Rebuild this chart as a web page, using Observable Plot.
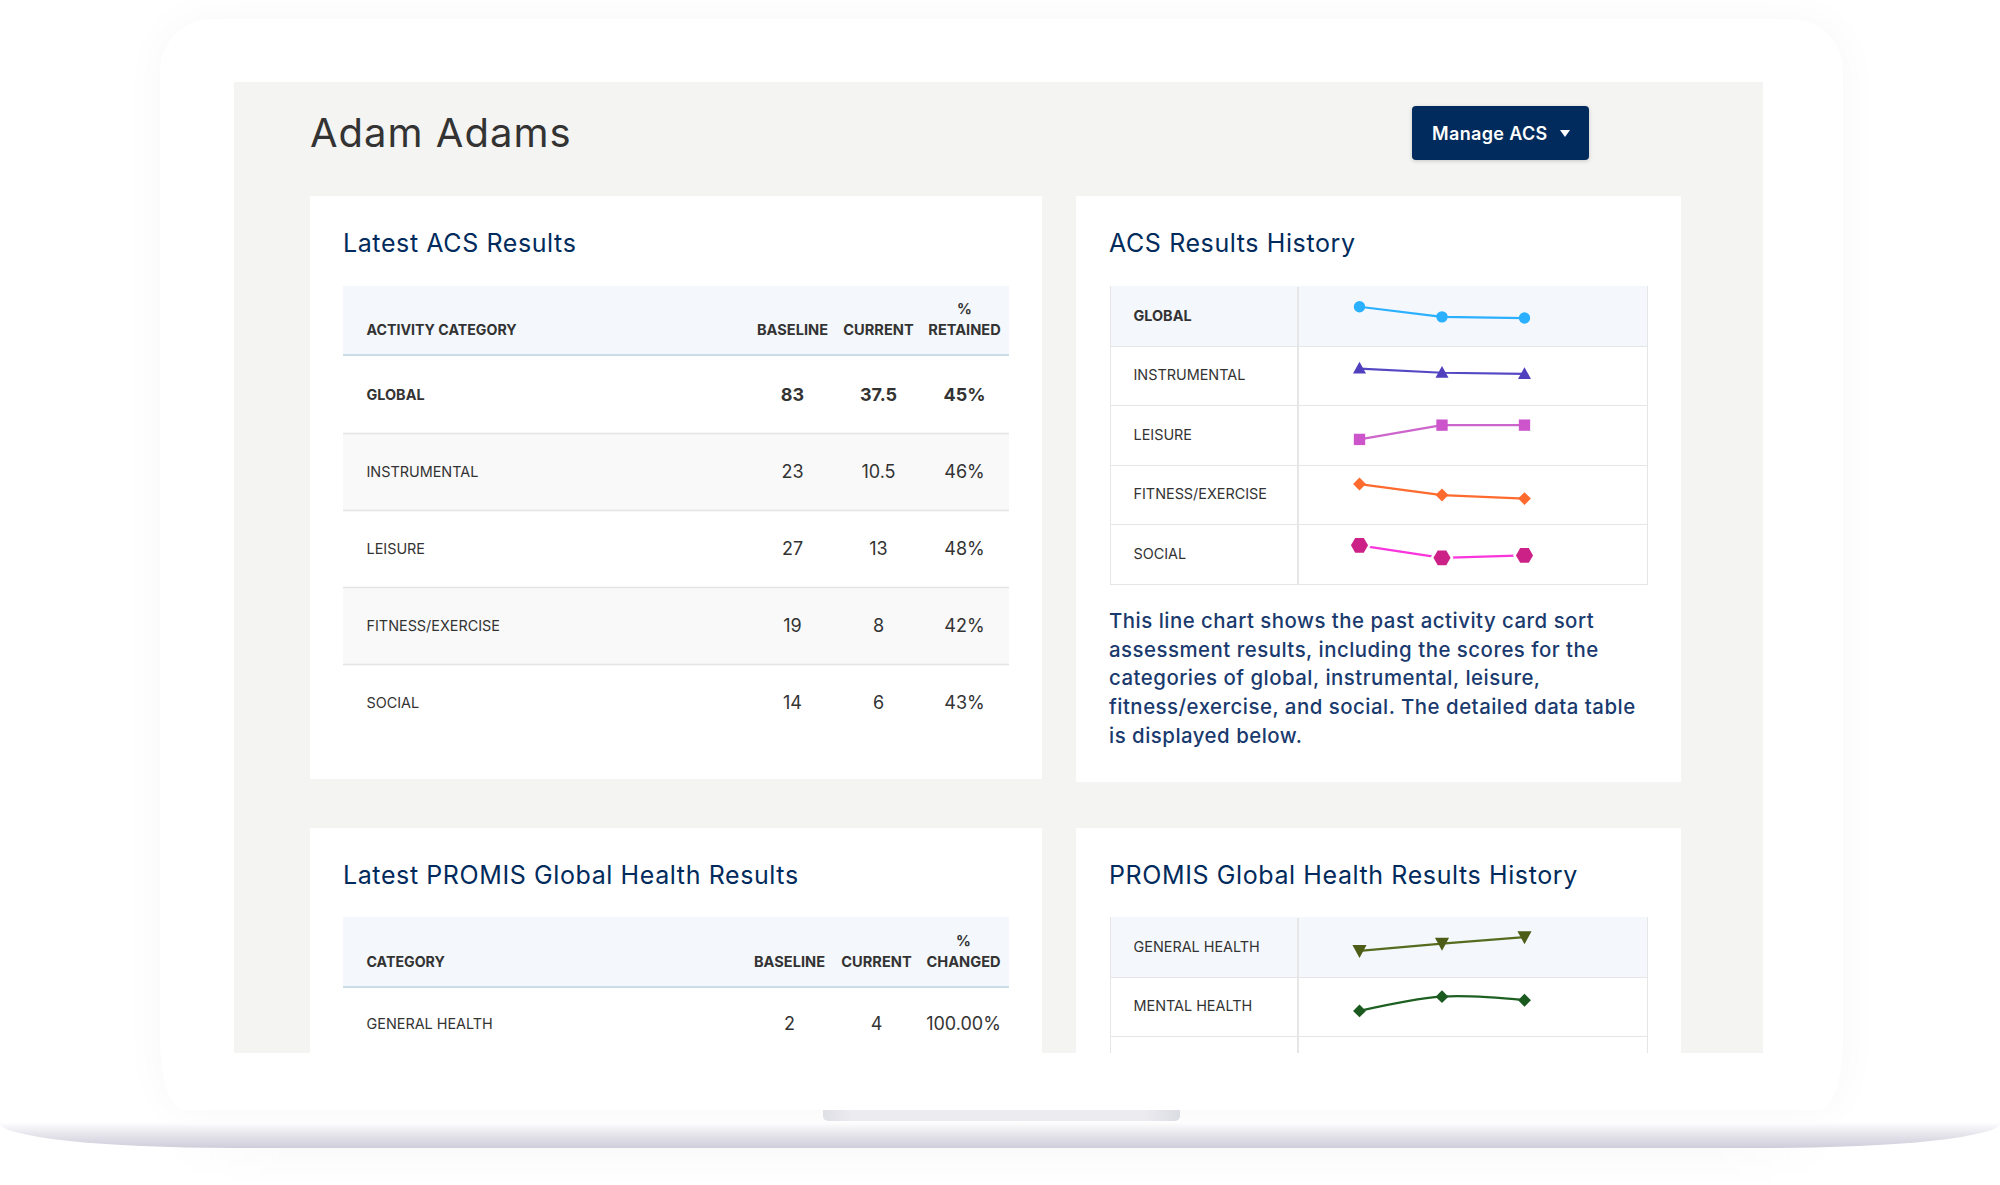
<!DOCTYPE html>
<html>
<head>
<meta charset="utf-8">
<script src="https://cdn.jsdelivr.net/npm/d3@7"></script>
<script src="https://cdn.jsdelivr.net/npm/@observablehq/plot@0.6"></script>
<style>
html,body{margin:0;padding:0;background:#fff;width:2000px;height:1185px;overflow:hidden;font-family:Inter,"Noto Sans",sans-serif}
div,h1,h2,p{position:absolute;margin:0;box-sizing:border-box}
svg{display:block;overflow:hidden}
#frame{left:160px;top:19px;width:1683px;height:1091px;background:#fff;border-radius:52px 52px 24px 24px/52px 52px 70px 70px;box-shadow:0 0 44px rgba(40,40,60,.035)}
#notch{left:823px;top:1110px;width:357px;height:11px;background:linear-gradient(90deg,#dfdfe6,#ebebf0 8%,#ebebf0 90%,#dcdce4);border-radius:0 0 5px 5px}
#base{left:0;top:1123px;width:2000px;height:25px;background:linear-gradient(180deg,#fdfdfe 0,#e6e5ec 45%,#cfcdda 100%);border-radius:0 0 230px 230px/0 0 25px 25px}
#under{left:160px;top:1148px;width:1680px;height:37px;background:linear-gradient(180deg,#fafafb,#fff);-webkit-mask-image:linear-gradient(90deg,transparent,#000 8%,#000 92%,transparent)}
#panel{left:234px;top:82px;width:1529px;height:971px;background:#f4f4f2;overflow:hidden}
#name{left:76px;top:27px;font-size:40px;line-height:48px;font-weight:400;color:#333;letter-spacing:1px;white-space:nowrap}
#btn{left:1178px;top:24px;width:177px;height:54px;background:#002b5c;border-radius:4px;box-shadow:0 1px 4px rgba(0,0,0,.18);color:#fff;font-weight:600;font-size:18px;line-height:56px;padding-left:20px;white-space:nowrap;letter-spacing:.35px}
#caret{left:148px;top:24px;width:0;height:0;border-left:5.5px solid transparent;border-right:5.5px solid transparent;border-top:7px solid #fff}
.card{background:#fff}
.card h2{left:33px;font-size:25px;line-height:34px;font-weight:400;color:#002b5c;white-space:nowrap;letter-spacing:.6px}
.hdr{background:#f4f8fc;border-bottom:2.5px solid #c9dde6}
.grid{background:#fff;border:1.5px solid #e6e6e6}
.row{left:0;width:100%;border-bottom:1.5px solid #e6e6e6}
.vline{top:0;bottom:0;width:1.5px;background:#e6e6e6}
#para{left:33px;top:411px;font-size:20.4px;line-height:28.7px;font-weight:500;color:#1a3a6e;white-space:nowrap;letter-spacing:.5px}
</style>
</head>
<body>
<div id="frame"></div>
<div id="notch"></div>
<div id="base"></div>
<div id="under"></div>
<div id="panel">
  <h1 id="name">Adam Adams</h1>
  <div id="btn">Manage ACS<div id="caret"></div></div>
  <div class="card" id="c1" style="left:76px;top:114px;width:732px;height:583px"><h2 style="top:30px">Latest ACS Results</h2></div>
  <div class="card" id="c2" style="left:842px;top:114px;width:605px;height:586px"><h2 style="top:30px">ACS Results History</h2>
    <p id="para">This line chart shows the past activity card sort<br>assessment results, including the scores for the<br>categories of global, instrumental, leisure,<br>fitness/exercise, and social. The detailed data table<br>is displayed below.</p></div>
  <div class="card" id="c3" style="left:76px;top:746px;width:732px;height:300px"><h2 style="top:30px">Latest PROMIS Global Health Results</h2></div>
  <div class="card" id="c4" style="left:842px;top:746px;width:605px;height:300px"><h2 style="top:30px">PROMIS Global Health Results History</h2></div>
</div>
<script>
const FONT = 'Inter, "Noto Sans", sans-serif';
const INK = "#333333";

// Latest ACS results
const acsCategories = ["GLOBAL","INSTRUMENTAL","LEISURE","FITNESS/EXERCISE","SOCIAL"];
const acsBaseline = ["83","23","27","19","14"];
const acsCurrent = ["37.5","10.5","13","8","6"];
const acsRetained = ["45%","46%","48%","42%","43%"];
const acsHeaders = ["BASELINE","CURRENT","%\nRETAINED"];

// Latest PROMIS results
const promisCategories = ["GENERAL HEALTH"];
const promisBaseline = ["2"];
const promisCurrent = ["4"];
const promisChanged = ["100.00%"];
const promisHeaders = ["BASELINE","CURRENT","%\nCHANGED"];

const runs = [1,2,3];
const histGlobal = [66,49,47];
const histInstrumental = [62,55,53];
const histLeisure = [43,67,67];
const histFitness = [68,49.5,43.5];
const histSocial = [65,44,48];
const histGeneral = [44,56,67];
const histMental = [43,67,61];

const acsLine = ["#2bafff","#5548c4","#cc66cc","#ff6b2e","#fb35dc"];
const acsDot = ["#2bafff","#5040bd","#cc55cc","#ff6b2e","#cc2288"];
const promisLine = ["#566b1e","#1e5f22"];
const promisDot = ["#4d5d17","#1b5a1f"];

const hexFlat = {draw(c,s){const r=Math.sqrt(s/2.598);const h=r*Math.sqrt(3)/2;c.moveTo(r,0);c.lineTo(r/2,h);c.lineTo(-r/2,h);c.lineTo(-r,0);c.lineTo(-r/2,-h);c.lineTo(r/2,-h);c.closePath();}};
const triDown = {draw(c,s){const w=Math.sqrt(s*1.1);c.moveTo(-w/2,-w*.42);c.lineTo(w/2,-w*.42);c.lineTo(0,w*.5);c.closePath();}};
const triUp = {draw(c,s){const w=Math.sqrt(s*1.1);c.moveTo(-w/2,w*.38);c.lineTo(w/2,w*.38);c.lineTo(0,-w*.52);c.closePath();}};

function resultsTable(host, opts){
  const {left,top,width,cats,head,title,columns,headH,rowH,xs,stripes} = opts;
  const hdr = document.createElement("div");
  hdr.className = "hdr";
  hdr.style.cssText = `left:${left}px;top:${top}px;width:${width}px;height:${headH}px`;
  host.appendChild(hdr);
  const cells = cats.flatMap((c,i)=>head.map((h,j)=>({cat:c,col:h,value:columns[j][i],bold:c==="GLOBAL"})));
  const last = cats[cats.length-1];
  const chart = Plot.plot({
    width, height: headH + rowH*cats.length,
    marginTop: headH, marginLeft:0, marginRight:0, marginBottom:0,
    style:{background:"transparent",fontFamily:FONT,overflow:"hidden"},
    x:{type:"point",domain:head,range:xs,padding:0,axis:null},
    y:{type:"band",domain:cats,padding:0,round:false,axis:null},
    marks:[
      Plot.cell(cats.filter(c=>stripes.includes(c)),{y:d=>d,fill:"#f9f9f9"}),
      Plot.ruleY(cats.filter(c=>c!==last),{y:d=>d,dy:rowH/2,stroke:"#e4e4e4",strokeWidth:1.5}),
      Plot.axisX({anchor:"top",tickSize:0,tickPadding:22,label:null,fontSize:14.6,fontWeight:700,fill:INK,lineHeight:1.38}),
      Plot.text([title],{frameAnchor:"top-left",lineAnchor:"middle",dx:23,dy:-26,fontSize:14.2,fontWeight:700,fill:INK}),
      Plot.axisY({anchor:"left",ticks:cats.filter(c=>c!=="GLOBAL"),tickSize:0,tickPadding:0,textAnchor:"start",dx:23,label:null,fontSize:14.4,fontWeight:400,fill:INK}),
      Plot.axisY({anchor:"left",ticks:cats.filter(c=>c==="GLOBAL"),tickSize:0,tickPadding:0,textAnchor:"start",dx:23,label:null,fontSize:14.4,fontWeight:700,fill:INK}),
      Plot.text(cells.filter(d=>!d.bold),{x:"col",y:"cat",text:"value",fontSize:18,fontWeight:400,fill:INK}),
      Plot.text(cells.filter(d=>d.bold),{x:"col",y:"cat",text:"value",fontSize:18,fontWeight:700,fill:INK})
    ]
  });
  chart.style.cssText += `;position:absolute;left:${left}px;top:${top}px`;
  host.appendChild(chart);
}

function historyTable(host, opts){
  const {left,top,cats,series,lines,dots,symbols,radii,curves,extraRows,shaded,halo,rowH} = opts;
  const W = 538, D = 188;
  const H = rowH*(cats.length+extraRows);
  const grid = document.createElement("div");
  grid.className = "grid";
  grid.style.cssText = `left:${left}px;top:${top}px;width:${W}px;height:${H+1}px`;
  cats.concat(d3.range(extraRows)).forEach((c,i)=>{
    const r = document.createElement("div");
    r.className = "row";
    r.style.cssText = `top:${i*rowH-1}px;height:${rowH+1}px;${c===shaded?"background:#f4f8fc;":""}`;
    grid.appendChild(r);
  });
  const v = document.createElement("div");
  v.className = "vline"; v.style.left = (D-2)+"px";
  grid.appendChild(v);
  host.appendChild(grid);
  const data = cats.flatMap((c,i)=>runs.map((r,j)=>({category:c,run:r,value:series[i][j]})));
  const rows = cats.concat(d3.range(extraRows).map(String));
  const marks = [
    Plot.axisFy({anchor:"left",ticks:cats.filter(c=>c!=="GLOBAL"),tickSize:0,tickPadding:0,textAnchor:"start",dx:-(D-23),label:null,fontSize:14.4,fill:INK}),
    Plot.axisFy({anchor:"left",ticks:cats.filter(c=>c==="GLOBAL"),tickSize:0,tickPadding:0,textAnchor:"start",dx:-(D-23),label:null,fontSize:14.4,fontWeight:700,fill:INK})
  ];
  cats.forEach((c,i)=>{
    const rowsOf = data.filter(d=>d.category===c);
    marks.push(Plot.line(rowsOf,{x:"run",y:"value",fy:"category",stroke:lines[i],strokeWidth:2.2,curve:curves[i]}));
    if (c===halo) marks.push(Plot.dot(rowsOf,{x:"run",y:"value",fy:"category",symbol:symbols[i],r:radii[i],fill:"#fff",stroke:"#fff",strokeWidth:5}));
    marks.push(Plot.dot(rowsOf,{x:"run",y:"value",fy:"category",symbol:symbols[i],r:radii[i],fill:dots[i],stroke:"none"}));
  });
  const chart = Plot.plot({
    width:W, height:H,
    marginLeft:D, marginRight:0, marginTop:0, marginBottom:0,
    style:{background:"transparent",fontFamily:FONT,overflow:"hidden"},
    x:{domain:[1,3],range:[249,414],axis:null},
    y:{domain:[0,100],axis:null},
    fy:{domain:rows,padding:0,round:false,axis:null},
    marks
  });
  chart.style.cssText += `;position:absolute;left:${left}px;top:${top}px`;
  host.appendChild(chart);
}

const c1 = document.getElementById("c1"), c2 = document.getElementById("c2"), c3 = document.getElementById("c3"), c4 = document.getElementById("c4");

resultsTable(c1,{left:33,top:90,width:666,cats:acsCategories,head:acsHeaders,title:"ACTIVITY CATEGORY",
  columns:[acsBaseline,acsCurrent,acsRetained],headH:70,rowH:77,xs:[448,621],stripes:["INSTRUMENTAL","FITNESS/EXERCISE"]});
historyTable(c2,{left:34,top:90,cats:acsCategories,
  series:[histGlobal,histInstrumental,histLeisure,histFitness,histSocial],
  lines:acsLine,dots:acsDot,symbols:["circle",triUp,"square","diamond2",hexFlat],radii:[5.7,7,6.4,5.8,7.8],
  curves:["linear","linear","linear","linear","linear"],extraRows:0,shaded:"GLOBAL",halo:"SOCIAL",rowH:59.5});
resultsTable(c3,{left:33,top:89,width:666,cats:promisCategories,head:promisHeaders,title:"CATEGORY",
  columns:[promisBaseline,promisCurrent,promisChanged],headH:71,rowH:72,xs:[445.5,620],stripes:[]});
historyTable(c4,{left:34,top:89,cats:["GENERAL HEALTH","MENTAL HEALTH"],
  series:[histGeneral,histMental],lines:promisLine,dots:promisDot,symbols:[triDown,"diamond2"],radii:[7.6,5.8],
  curves:["linear","catmull-rom"],extraRows:1,shaded:"GENERAL HEALTH",halo:null,rowH:59.5});
</script>
</body>
</html>
